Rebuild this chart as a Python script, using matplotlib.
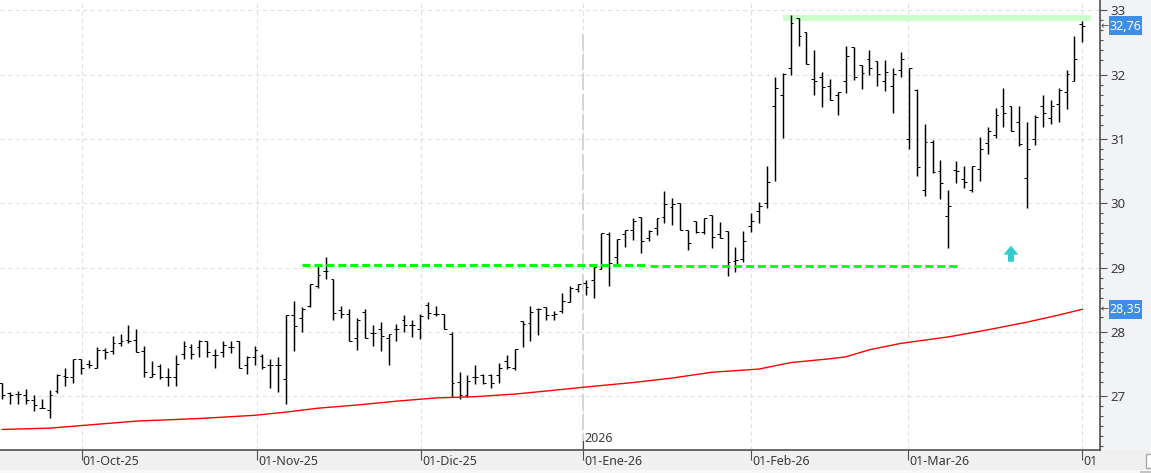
import matplotlib
matplotlib.use("Agg")
import matplotlib.pyplot as plt
import matplotlib.transforms as mtrans
from matplotlib.patches import Rectangle, FancyArrow
import numpy as np

plt.rcParams['font.family'] = ['Noto Sans', 'DejaVu Sans']
plt.rcParams['lines.scale_dashes'] = False

# daily open / high / low / close
opens = [27.21,27.05,27.03,27.02,26.94,26.81,26.79,27.08,27.31,27.29,
         27.58,27.50,27.43,27.72,27.70,27.83,27.87,27.87,27.70,27.29,
         27.46,27.29,27.30,27.65,27.77,27.76,27.85,27.64,27.69,27.77,
         27.85,27.48,27.60,27.62,27.48,27.49,27.26,28.26,28.21,28.40,
         28.71,28.95,28.82,28.34,28.28,27.91,28.31,27.98,28.05,27.91,
         28.05,28.18,28.10,28.05,28.41,28.27,28.28,27.97,27.22,27.02,
         27.29,27.32,27.32,27.32,27.54,27.43,28.16,28.13,28.35,28.38,
         28.26,28.33,28.46,28.67,28.76,28.81,28.97,29.52,29.16,29.52,
         29.58,29.78,29.46,29.61,29.78,29.94,30.00,29.58,29.72,29.56,
         29.82,29.52,29.57,29.10,29.14,29.64,29.88,30.00,31.51,31.69,
         32.11,32.88,32.66,31.94,31.97,31.83,31.68,31.90,32.43,32.15,
         32.24,32.21,31.90,31.82,32.08,31.00,31.77,30.20,30.96,30.50,
         29.80,30.51,30.37,30.21,30.54,30.93,31.06,31.51,31.51,31.26,
         30.40,31.00,31.51,31.32,31.55,31.73,31.90,32.79]
highs = [27.21,27.07,27.08,27.11,27.02,26.96,27.09,27.34,27.43,27.58,
         27.58,27.56,27.76,27.74,27.93,27.97,28.10,28.04,27.78,27.54,
         27.50,27.44,27.64,27.85,27.81,27.87,27.85,27.73,27.85,27.85,
         27.85,27.62,27.78,27.65,27.58,27.60,28.26,28.48,28.38,28.75,
         29.04,29.16,28.82,28.40,28.35,28.21,28.35,28.11,28.15,27.97,
         28.12,28.26,28.18,28.28,28.46,28.40,28.28,27.99,27.38,27.32,
         27.48,27.34,27.34,27.52,27.64,27.73,28.16,28.40,28.37,28.38,
         28.32,28.60,28.71,28.74,28.81,29.01,29.54,29.56,29.44,29.58,
         29.77,29.78,29.59,29.77,30.19,30.08,30.01,29.58,29.73,29.77,
         29.82,29.71,29.57,29.32,29.57,29.85,30.02,30.58,31.96,32.03,
         32.93,32.88,32.66,32.38,32.04,31.93,31.73,32.45,32.43,32.15,
         32.38,32.21,32.23,32.10,32.35,32.10,31.78,31.24,30.98,30.68,
         30.21,30.65,30.58,30.58,31.03,31.19,31.48,31.80,31.51,31.51,
         31.27,31.38,31.68,31.60,31.80,32.08,32.60,32.83]
lows = [26.96,26.87,26.87,26.87,26.77,26.81,26.66,27.05,27.15,27.20,
        27.34,27.43,27.43,27.58,27.65,27.78,27.83,27.69,27.30,27.29,
        27.26,27.15,27.15,27.57,27.57,27.61,27.61,27.44,27.61,27.67,
        27.43,27.34,27.48,27.42,27.13,27.07,26.87,27.70,28.00,28.39,
        28.68,28.82,28.18,28.21,27.85,27.72,27.91,27.78,27.70,27.49,
        27.86,27.99,27.92,27.89,28.20,28.25,28.04,26.98,26.96,26.98,
        27.18,27.19,27.13,27.21,27.42,27.40,27.77,27.85,27.95,28.19,
        28.19,28.29,28.46,28.62,28.57,28.53,28.97,28.71,29.05,29.32,
        29.43,29.23,29.41,29.51,29.70,29.66,29.59,29.27,29.53,29.52,
        29.30,29.46,28.87,28.93,29.09,29.55,29.70,29.93,30.35,31.02,
        32.00,32.45,32.16,31.69,31.50,31.60,31.38,31.72,31.92,31.78,
        32.00,31.83,31.75,31.41,31.97,30.85,30.43,30.12,30.47,30.07,
        29.30,30.32,30.23,30.18,30.34,30.76,31.02,31.19,31.13,30.89,
        29.93,30.91,31.19,31.24,31.27,31.46,31.90,32.51]
closes = [27.02,27.01,27.03,26.94,26.86,26.81,27.02,27.33,27.30,27.58,
          27.44,27.48,27.72,27.69,27.82,27.85,27.85,27.69,27.37,27.34,
          27.30,27.30,27.50,27.78,27.65,27.85,27.69,27.64,27.80,27.77,
          27.43,27.61,27.72,27.45,27.49,27.49,28.26,28.09,28.35,28.75,
          28.88,28.94,28.29,28.27,27.85,28.19,27.91,27.98,27.93,27.96,
          28.05,28.10,28.10,28.24,28.29,28.27,28.04,27.20,27.02,27.24,
          27.29,27.20,27.20,27.43,27.45,27.73,28.12,28.30,28.36,28.26,
          28.28,28.48,28.68,28.74,28.69,29.01,29.54,29.07,29.44,29.58,
          29.72,29.42,29.57,29.77,29.99,29.99,29.59,29.38,29.55,29.77,
          29.47,29.46,29.09,29.11,29.42,29.72,29.95,30.33,31.79,32.01,
          32.80,32.60,32.16,31.90,31.81,31.60,31.73,32.29,31.97,32.02,
          32.10,32.01,32.04,32.01,32.25,32.10,30.56,30.96,30.49,30.32,
          29.95,30.50,30.33,30.58,30.85,31.12,31.38,31.41,31.13,30.92,
          30.85,31.34,31.40,31.52,31.76,32.01,32.25,32.76]

# moving average, read at these bar numbers
ma_bars = [0,6,10,17,25,32,36,40,45,50,55,60,65,70,74,80,85,90,96,100,
           105,107,110,114,120,125,130,134,137]
ma_values = [26.48,26.50,26.54,26.61,26.65,26.70,26.75,26.81,26.86,26.92,
             26.97,26.99,27.03,27.09,27.14,27.21,27.28,27.37,27.42,27.52,
             27.58,27.61,27.72,27.82,27.92,28.03,28.15,28.26,28.35]

date_pos = [10.05, 32.37, 53.11, 73.66, 94.97, 114.89, 136.97]
date_labels = ['01-Oct-25', '01-Nov-25', '01-Dic-25', '01-Ene-26',
               '01-Feb-26', '01-Mar-26', '01']
price_ticks = [27, 28, 29, 30, 31, 32, 33]

support_a = 29.04
support_a_span = (38.0, 81.9)
support_b = 29.02
support_b_span = (82.2, 121.1)
resistance = (32.83, 32.93)
resistance_span = (99.05, 138.1)
signal_bar = 127.95
signal_price = (29.09, 29.34)

W, H = 1151, 473
fig = plt.figure(figsize=(W / 100, H / 100), dpi=100, facecolor='#f0f0f0')
ax = fig.add_axes([0, (H - 450) / H, 1099.5 / W, 450 / H], facecolor='white')
ax.set_xlim(-0.29, 139.18)
ax.set_ylim(26.16, 33.163)

# panels around the plot
fig.add_artist(Rectangle((1099.5 / W, 23 / H), 51.5 / W, 450 / H, transform=fig.transFigure,
                         fc='#f2f3f7', ec='none', zorder=-1))
fig.add_artist(Rectangle((0, 0), 1, 3 / H, transform=fig.transFigure, fc='#f8f8f8', ec='none'))
fig.add_artist(Rectangle((1140 / W, 0), 11 / W, 2 / H, transform=fig.transFigure, fc='#c4c4c4', ec='none'))
fig.add_artist(Rectangle((1145.5 / W, 5.5 / H), 8 / W, 14 / H, transform=fig.transFigure,
                         fc='white', ec='#a8a8a8', lw=1))

for s in ['top', 'left']:
    ax.spines[s].set_visible(False)
for s in ['right', 'bottom']:
    ax.spines[s].set_color('#505050')
    ax.spines[s].set_linewidth(1.2)

ax.yaxis.tick_right()
ax.set_yticks(price_ticks)
ax.set_yticklabels([str(t) for t in price_ticks])
minor = [t - k * 0.1556 for t in price_ticks for k in range(1, 6)]
ax.set_yticks(minor, minor=True)
ax.tick_params(axis='y', which='major', length=4.8, width=0.8, pad=2.8, color='#505050',
               labelcolor='#3a3a3a', labelsize=9.5)
ax.tick_params(axis='y', which='minor', length=2.4, width=0.8, color='#505050')

ax.set_xticks(date_pos)
ax.set_xticklabels(date_labels, ha='left')
ax.tick_params(axis='x', length=7.2, width=0.8, pad=-3.4, color='#505050',
               labelcolor='#3a3a3a', labelsize=9)
shift = mtrans.ScaledTranslation(1 / 100, 0, fig.dpi_scale_trans)
for lab in ax.get_xticklabels():
    lab.set_transform(lab.get_transform() + shift)

ax.grid(True, color='#e0e0e0', linewidth=0.8, linestyle=(0, (3, 2.4)), zorder=0)
ax.set_axisbelow(True)

# year separator
ax.axvline(date_pos[3], ymax=(450 - 20 - 12) / 450, color='#d4d4d4', linewidth=1.4,
           linestyle=(0, (11.5, 2.9)), zorder=1)
ax.axvline(date_pos[3], ymax=9 / 450, color='#505050', linewidth=0.8, zorder=3)
ax.annotate('2026', (date_pos[3], 0), xycoords=ax.get_xaxis_transform(), xytext=(1.2, 3.3),
            textcoords='offset points', ha='left', va='bottom', fontsize=9, color='#3a3a3a')

# resistance band
ax.fill_between(resistance_span, resistance[0], resistance[1], color='#ccffcc', lw=0, zorder=1.5)

# OHLC bars
x = np.arange(len(closes))
stems = ax.vlines(x, lows, highs, colors='black', linewidth=1.05, zorder=2)
open_ticks = ax.hlines(opens, x - 0.36, x, colors='black', linewidth=0.72, zorder=2)
close_ticks = ax.hlines(closes, x, x + 0.36, colors='black', linewidth=0.72, zorder=2)
for part in (stems, open_ticks, close_ticks):
    part.set_snap(True)

ax.plot(ma_bars, ma_values, color='#ff0000', linewidth=1.0, zorder=2.5)

# support levels
ax.plot(support_a_span, [support_a, support_a], color='#00ff00', linewidth=2.2,
        linestyle=(0, (5.8, 2.8)), dash_capstyle='butt', zorder=4)
ax.plot(support_b_span, [support_b, support_b], color='#00ff00', linewidth=2.0,
        linestyle=(0, (5.8, 2.8)), dash_capstyle='butt', zorder=4)

ax.add_patch(FancyArrow(signal_bar, signal_price[0], 0, signal_price[1] - signal_price[0],
                        width=0.76, head_width=1.9, head_length=0.14,
                        length_includes_head=True, fc='#33cccc', ec='none', zorder=4))

# value flags on the price scale
flag_trans = mtrans.blended_transform_factory(fig.transFigure, ax.transData)
for val in [closes[-1], ma_values[-1]]:
    fig.add_artist(Rectangle((1109 / W, val - 0.148), 33 / W, 0.296, transform=flag_trans,
                             fc='#3d8ee6', ec='none', zorder=5))
    fig.text(1125.5 / W, val - 0.01, f'{val:.2f}'.replace('.', ','), transform=flag_trans,
             ha='center', va='center', color='white', fontsize=9, zorder=6)
    fig.text(1104.5 / W, val, '\u2190', transform=flag_trans, ha='center', va='center',
             color='#505050', fontsize=7, family='DejaVu Sans', zorder=6)

fig.savefig('out.png', dpi=100, facecolor=fig.get_facecolor())
